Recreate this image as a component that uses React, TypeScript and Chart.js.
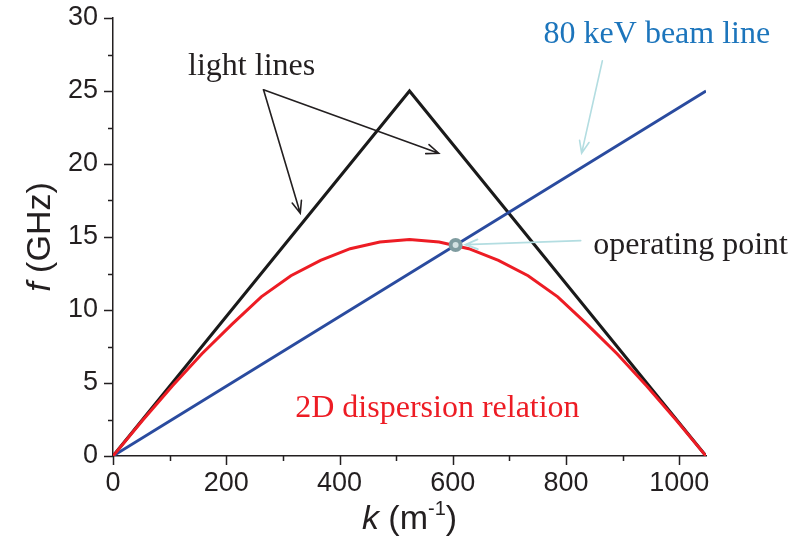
import React, { useEffect, useRef } from "react";
import { Chart, registerables } from "chart.js";

Chart.register(...registerables);

// Wavenumber range (m^-1): one period of the structure, 2π / 6 mm
const K_MAX = 1047.2;
const K_MID = 523.6;

// Light lines: f = c·k / 2π, folded at the zone edge
const lightK = [0, K_MID, K_MAX];
const lightF = [0, 25, 0];

// 80 keV electron beam line
const beamK = [0, K_MAX];
const beamF = [0, 25];

// 2D dispersion relation, sampled every 52.36 m^-1
const dispK = [
  0, 52.36, 104.72, 157.08, 209.44, 261.8, 314.16, 366.52, 418.88, 471.24, 523.6,
  575.96, 628.32, 680.68, 733.04, 785.4, 837.76, 890.12, 942.48, 994.84, 1047.2,
];
const dispF = [
  0, 2.45, 4.8, 7.0, 9.0, 10.9, 12.35, 13.4, 14.2, 14.65, 14.82,
  14.65, 14.2, 13.4, 12.35, 10.9, 9.0, 7.0, 4.8, 2.45, 0,
];

// Operating point: beam line meets the dispersion curve
const opK = [605];
const opF = [14.45];

// Tick values
const xTickStep = 100;
const xLabelStep = 200;
const yTickStep = 2.5;
const yLabelStep = 5;

const INK = "#231f20";
const SERIF = "'Liberation Serif', 'Times New Roman', serif";
const SANS = "'Liberation Sans', Arial, sans-serif";

const toXY = (ks: number[], fs: number[]) => ks.map((k, i) => ({ x: k, y: fs[i] }));

function arrow(
  ctx: CanvasRenderingContext2D,
  x0: number,
  y0: number,
  x1: number,
  y1: number,
  color: string,
  width: number,
  head = 13
) {
  const a = Math.atan2(y1 - y0, x1 - x0);
  const spread = 0.38;
  ctx.save();
  ctx.strokeStyle = color;
  ctx.lineWidth = width;
  ctx.lineCap = "round";
  ctx.beginPath();
  ctx.moveTo(x0, y0);
  ctx.lineTo(x1, y1);
  ctx.moveTo(x1 - head * Math.cos(a - spread), y1 - head * Math.sin(a - spread));
  ctx.lineTo(x1, y1);
  ctx.lineTo(x1 - head * Math.cos(a + spread), y1 - head * Math.sin(a + spread));
  ctx.stroke();
  ctx.restore();
}

const decorations = {
  id: "decorations",
  afterDraw(chart: any) {
    const { ctx, chartArea } = chart;
    const xs = chart.scales.x;
    const ys = chart.scales.y;
    const X = (v: number) => xs.getPixelForValue(v);
    const Y = (v: number) => ys.getPixelForValue(v);

    ctx.save();
    // outward tick marks, long at labelled values
    ctx.strokeStyle = INK;
    ctx.lineWidth = 1.5;
    ctx.beginPath();
    for (let v = 0; v <= 1000 + 1e-6; v += xTickStep) {
      const len = Math.abs(v % xLabelStep) < 1e-6 ? 9 : 5;
      const px = Math.round(X(v)) + 0.5;
      ctx.moveTo(px, chartArea.bottom);
      ctx.lineTo(px, chartArea.bottom + len);
    }
    for (let v = 0; v <= 30 + 1e-6; v += yTickStep) {
      const len = Math.abs(v % yLabelStep) < 1e-6 ? 9 : 5;
      const py = Math.round(Y(v)) + 0.5;
      ctx.moveTo(chartArea.left, py);
      ctx.lineTo(chartArea.left - len, py);
    }
    ctx.stroke();

    // axis titles
    ctx.fillStyle = INK;
    ctx.textBaseline = "alphabetic";
    const titleSize = 34;
    // y: "f (GHz)"
    ctx.save();
    ctx.translate(50, (chartArea.top + chartArea.bottom) / 2);
    ctx.rotate(-Math.PI / 2);
    ctx.font = `italic ${titleSize}px ${SANS}`;
    const fW = ctx.measureText("f").width;
    ctx.font = `${titleSize}px ${SANS}`;
    const restY = " (GHz)";
    const rW = ctx.measureText(restY).width;
    const startY = -(fW + rW) / 2;
    ctx.font = `italic ${titleSize}px ${SANS}`;
    ctx.textAlign = "left";
    ctx.fillText("f", startY, 0);
    ctx.font = `${titleSize}px ${SANS}`;
    ctx.fillText(restY, startY + fW, 0);
    ctx.restore();

    // x: "k (m^-1)"
    {
      const base = 529;
      const sup = Math.round(titleSize * 0.6);
      ctx.font = `italic ${titleSize}px ${SANS}`;
      const kW = ctx.measureText("k").width;
      ctx.font = `${titleSize}px ${SANS}`;
      const p1 = " (m";
      const p1W = ctx.measureText(p1).width;
      const p3 = ")";
      const p3W = ctx.measureText(p3).width;
      ctx.font = `${sup}px ${SANS}`;
      const p2 = "-1";
      const p2W = ctx.measureText(p2).width;
      const total = kW + p1W + p2W + p3W;
      let x = (chartArea.left + chartArea.right) / 2 - total / 2;
      ctx.textAlign = "left";
      ctx.font = `italic ${titleSize}px ${SANS}`;
      ctx.fillText("k", x, base);
      x += kW;
      ctx.font = `${titleSize}px ${SANS}`;
      ctx.fillText(p1, x, base);
      x += p1W;
      ctx.font = `${sup}px ${SANS}`;
      ctx.fillText(p2, x, base - titleSize * 0.42);
      x += p2W;
      ctx.font = `${titleSize}px ${SANS}`;
      ctx.fillText(p3, x, base);
    }

    // annotations
    const noteSize = 32;
    ctx.textAlign = "left";
    ctx.font = `${noteSize}px ${SERIF}`;

    ctx.fillStyle = INK;
    ctx.fillText("light lines", X(132.6), Y(26.1));
    arrow(ctx, X(265.8), Y(25.08), X(330.7), Y(16.63), INK, 1.6);
    arrow(ctx, X(265.8), Y(25.08), X(575.2), Y(20.74), INK, 1.6);

    ctx.fillStyle = "#1c75bc";
    ctx.fillText("80 keV beam line", X(760.4), Y(28.3));
    arrow(ctx, X(864.2), Y(27.07), X(827.6), Y(20.74), "#b3dde1", 1.6);

    ctx.fillStyle = INK;
    ctx.fillText("operating point", X(848.3), Y(13.85));
    const ox = X(opK[0]);
    const oy = Y(opF[0]);
    const sx = X(825.8);
    const sy = Y(14.75);
    const ang = Math.atan2(oy - sy, ox - sx);
    arrow(ctx, sx, sy, ox - 10 * Math.cos(ang), oy - 10 * Math.sin(ang), "#b3dde1", 1.8);

    ctx.fillStyle = "#ed1c24";
    ctx.fillText("2D dispersion relation", X(321.8), Y(2.65));
    ctx.restore();
  },
};

export default function App() {
  const ref = useRef<HTMLCanvasElement | null>(null);

  useEffect(() => {
    if (!ref.current) return;
    const chart = new Chart(ref.current, {
      type: "scatter",
      data: {
        datasets: [
          {
            label: "operating point",
            data: toXY(opK, opF),
            showLine: false,
            pointRadius: 5,
            pointBorderWidth: 4,
            pointBorderColor: "#7f9ca0",
            pointBackgroundColor: "#d4e2e3",
            order: 0,
          },
          {
            label: "2D dispersion relation",
            data: toXY(dispK, dispF),
            showLine: true,
            borderColor: "#ed1c24",
            borderWidth: 3,
            pointRadius: 0,
            tension: 0,
            order: 1,
          },
          {
            label: "80 keV beam line",
            data: toXY(beamK, beamF),
            showLine: true,
            borderColor: "#2a4b9f",
            borderWidth: 2.8,
            pointRadius: 0,
            order: 2,
          },
          {
            label: "light lines",
            data: toXY(lightK, lightF),
            showLine: true,
            borderColor: "#1a1a1a",
            borderWidth: 3,
            pointRadius: 0,
            borderJoinStyle: "miter",
            order: 3,
          },
        ],
      },
      options: {
        responsive: false,
        animation: false,
        events: [],
        layout: { padding: { left: 0, right: 97, top: 18, bottom: 0 } },
        plugins: { legend: { display: false }, tooltip: { enabled: false } },
        scales: {
          x: {
            type: "linear",
            min: 0,
            max: K_MAX,
            grid: { display: false },
            border: { display: true, color: INK, width: 1.5 },
            ticks: {
              stepSize: xTickStep,
              includeBounds: false,
              autoSkip: false,
              maxRotation: 0,
              padding: 3,
              color: INK,
              font: { family: SANS, size: 27 },
              callback: (v: any) => (Math.abs(Number(v) % xLabelStep) < 1e-6 ? String(v) : ""),
            },
            afterFit: (s: any) => {
              s.height = 84;
              s.paddingLeft = 0;
              s.paddingRight = 0;
            },
          },
          y: {
            type: "linear",
            min: 0,
            max: 30,
            grid: { display: false },
            border: { display: true, color: INK, width: 1.5 },
            ticks: {
              stepSize: yTickStep,
              includeBounds: false,
              autoSkip: false,
              padding: 7,
              color: INK,
              font: { family: SANS, size: 27 },
              callback: (v: any) => (Math.abs(Number(v) % yLabelStep) < 1e-6 ? String(v) : ""),
            },
            afterFit: (s: any) => {
              s.width = 113;
              s.paddingTop = 0;
              s.paddingBottom = 0;
            },
          },
        },
      },
      plugins: [decorations],
    });
    return () => chart.destroy();
  }, []);

  return (
    <div style={{ position: "fixed", left: 0, top: 0, width: 803, height: 540, background: "#fff" }}>
      <canvas ref={ref} width={803} height={540} style={{ display: "block" }} />
    </div>
  );
}
